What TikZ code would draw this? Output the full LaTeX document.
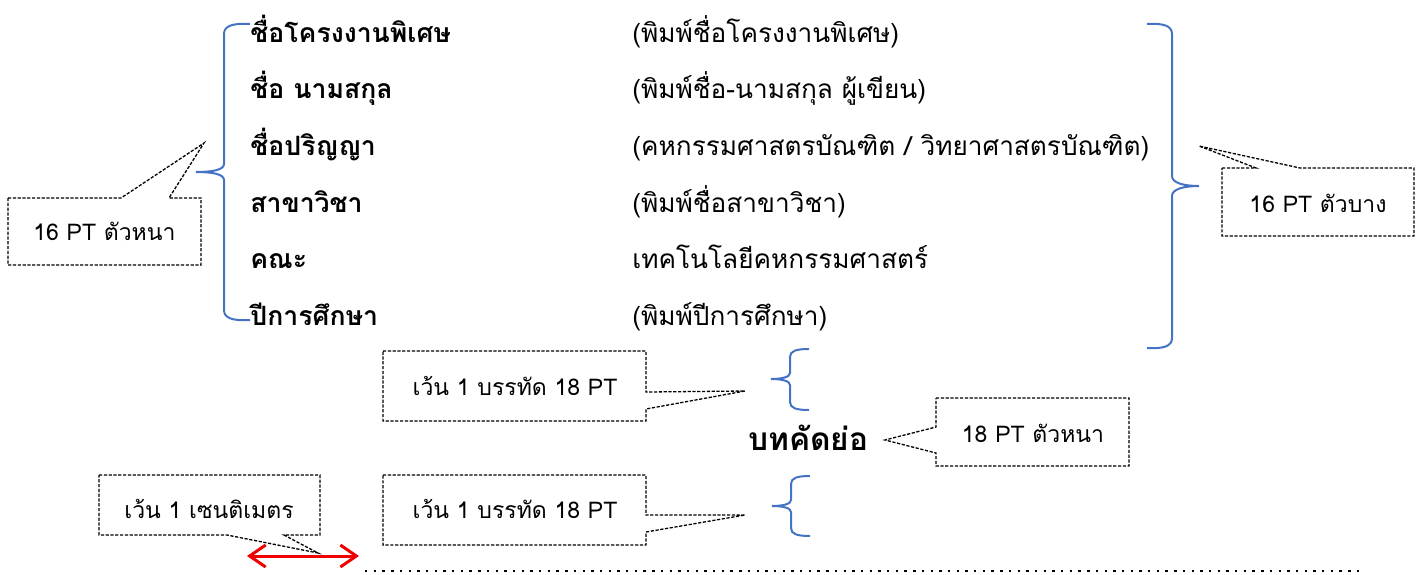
\documentclass[tikz,border=0pt]{standalone}
\usepackage{fontspec}
\setmainfont[Script=Thai]{Loma}
\usetikzlibrary{arrows.meta}
\definecolor{braceblue}{RGB}{68,114,196}
\definecolor{arrowred}{RGB}{240,0,0}
\begin{document}
\begin{tikzpicture}[x=0.5pt,y=-0.5pt,
  callout/.style={draw=black, dash pattern=on 1.6pt off 0.8pt, line width=0.65pt, line join=miter},
  bracepath/.style={draw=braceblue, line width=1pt},
  lbl/.style={anchor=base west, inner sep=0pt, font=\fontsize{13.3}{15}\selectfont\bfseries},
  val/.style={anchor=base west, inner sep=0pt, font=\fontsize{13.1}{15}\selectfont},
  note/.style={anchor=base, inner sep=0pt, font=\fontsize{11.5}{13}\selectfont},
  title/.style={anchor=base west, inner sep=0pt, font=\fontsize{15.8}{17}\selectfont\bfseries}]
\useasboundingbox (0,0) rectangle (1424,574);

% left column labels
\node[lbl] (l1) at (250,42) {ชื่อโครงงานพิเศษ};
\node[lbl] (l2) at (250,98) {ชื่อ นามสกุล};
\node[lbl] (l3) at (250,155) {ชื่อปริญญา};
\node[lbl] (l4) at (250,212) {สาขาวิชา};
\node[lbl] (l5) at (250,268) {คณะ};
\node[lbl] (l6) at (250,325) {ปีการศึกษา};

% right column values
\node[val] (v1) at (632,42) {(พิมพ์ชื่อโครงงานพิเศษ)};
\node[val] (v2) at (632,98) {(พิมพ์ชื่อ-นามสกุล ผู้เขียน)};
\node[val] (v3) at (632,155) {(คหกรรมศาสตรบัณฑิต / วิทยาศาสตรบัณฑิต)};
\node[val] (v4) at (632,212) {(พิมพ์ชื่อสาขาวิชา)};
\node[val] (v5) at (632,268) {เทคโนโลยีคหกรรมศาสตร์};
\node[val] (v6) at (632,325) {(พิมพ์ปีการศึกษา)};

% title
\node[title] (abs) at (748,450) {บทคัดย่อ};

% left big brace
\draw[bracepath] (250,24) .. controls (232,23) and (224,26) .. (224,34) -- (224,164)
  .. controls (224,170) and (212,172) .. (196,172)
  .. controls (212,172) and (224,174) .. (224,180) -- (224,310)
  .. controls (224,318) and (232,321) .. (250,320);
% right big brace
\draw[bracepath] (1147,24) .. controls (1164,23) and (1172,26) .. (1172,34) -- (1172,176)
  .. controls (1172,183) and (1184,186) .. (1199,186)
  .. controls (1184,186) and (1172,189) .. (1172,196) -- (1172,338)
  .. controls (1172,346) and (1164,349) .. (1147,348);
% small braces
\draw[bracepath] (809,349) .. controls (796,349) and (790,351) .. (790,357) -- (790,373)
  .. controls (790,377) and (782,379) .. (771,379)
  .. controls (782,379) and (790,381) .. (790,385) -- (790,402)
  .. controls (790,408) and (796,410) .. (809,410);
\draw[bracepath] (810,476) .. controls (797,476) and (791,478) .. (791,484) -- (791,500)
  .. controls (791,504) and (783,506) .. (772,506)
  .. controls (783,506) and (791,508) .. (791,512) -- (791,528)
  .. controls (791,534) and (797,536) .. (810,536);

% callout: 16 PT bold
\draw[callout] (8,198) -- (121,198) -- (204,143) -- (169,198) -- (201,198) -- (201,265) -- (8,265) -- cycle;
\node[note] (n1) at (104.5,240) {16 PT ตัวหนา};
% callout: 16 PT regular
\draw[callout] (1222,168) -- (1256,168) -- (1199,146) -- (1300,168) -- (1414,168) -- (1414,236) -- (1222,236) -- cycle;
\node[note] (n2) at (1318,212) {16 PT ตัวบาง};
% callout: upper blank line
\draw[callout] (383,351) -- (646,351) -- (646,392) -- (745,391) -- (646,409) -- (646,421) -- (383,421) -- cycle;
\node[note] (n3) at (515,395) {เว้น 1 บรรทัด 18 PT};
% callout: lower blank line
\draw[callout] (383,475) -- (646,475) -- (646,515) -- (745,515) -- (646,532) -- (646,545) -- (383,545) -- cycle;
\node[note] (n4) at (515,518) {เว้น 1 บรรทัด 18 PT};
% callout: 18 PT bold
\draw[callout] (936,398) -- (1129,398) -- (1129,466) -- (936,466) -- (936,453) -- (885,440) -- (936,427) -- cycle;
\node[note] (n5) at (1033,442) {18 PT ตัวหนา};
% callout: 1 cm
\draw[callout] (99,475) -- (320,475) -- (320,535) -- (284,535) -- (318,553) -- (227,535) -- (99,535) -- cycle;
\node[note] (n6) at (209,518) {เว้น 1 เซนติเมตร};

% red double arrow
\coordinate (ra) at (247,556);
\coordinate (rb) at (359,556);
\draw[draw=arrowred, line width=1.5pt, {Straight Barb[length=8pt,width=11pt]}-{Straight Barb[length=8pt,width=11pt]}] (ra) -- (rb);

% dotted line
\coordinate (da) at (365,571);
\coordinate (db) at (1362,571);
\draw[line width=1.4pt, dash pattern=on 1.2pt off 3.15pt] (da) -- (db);
\end{tikzpicture}
\end{document}
